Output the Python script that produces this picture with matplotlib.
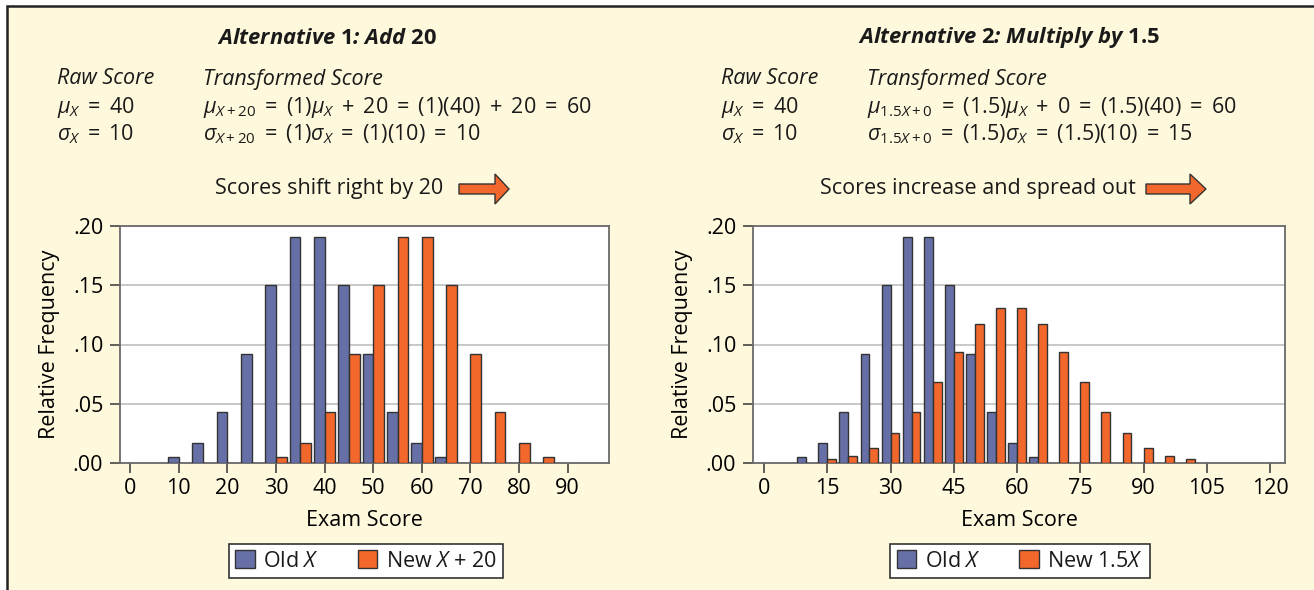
import matplotlib
matplotlib.use('Agg')
import matplotlib.pyplot as plt
from matplotlib.patches import Rectangle, Polygon

# values
old_scores = [10, 15, 20, 25, 30, 35, 40, 45, 50, 55, 60, 65]
old_freq = [.005, .017, .043, .092, .150, .191, .191, .150, .092, .043, .017, .005]
add_scores = [30, 35, 40, 45, 50, 55, 60, 65, 70, 75, 80, 85]
add_freq = [.005, .017, .043, .092, .150, .191, .191, .150, .092, .043, .017, .005]
mult_scores = [15, 20, 25, 30, 35, 40, 45, 50, 55, 60, 65, 70, 75, 80, 85, 90, 95, 100]
mult_freq = [.003, .006, .013, .025, .043, .068, .094, .117, .131,
             .131, .117, .094, .068, .043, .025, .013, .006, .003]
left_ticks = [0, 10, 20, 30, 40, 50, 60, 70, 80, 90]
right_ticks = [0, 15, 30, 45, 60, 75, 90, 105, 120]
y_ticks = [0, .05, .10, .15, .20]

BLUE = '#6670a6'
ORANGE = '#f2672b'
EDGE = '#333333'
BG = '#fef9dc'

plt.rcParams['font.family'] = ['Open Sans', 'DejaVu Sans']
plt.rcParams['mathtext.fontset'] = 'custom'
plt.rcParams['mathtext.rm'] = 'Open Sans'
plt.rcParams['mathtext.it'] = 'Open Sans:italic'
plt.rcParams['mathtext.bf'] = 'Open Sans:bold'
plt.rcParams['mathtext.sf'] = 'Open Sans'
plt.rcParams['text.color'] = '#1a1a1a'

W, H = 1314, 590
fig = plt.figure(figsize=(W / 100, H / 100), dpi=100, facecolor='white')

def fx(x):
    return x / W

def fy(y):
    return 1 - y / H

# yellow panel with dark border on top/left
fig.add_artist(Rectangle((fx(7), fy(600)), fx(1340 - 7), (600 - 6) / H,
                         transform=fig.transFigure, facecolor=BG,
                         edgecolor='#222222', linewidth=1.8, zorder=0))

FS = 15.5
SP = ' \u2006'   # a bit wider than a plain space, like the book's setting


def arrow(x0, yc, length=50, body=36, bh=5, hh=15):
    pts = [(x0, yc - bh), (x0 + body, yc - bh), (x0 + body, yc - hh),
           (x0 + length, yc), (x0 + body, yc + hh), (x0 + body, yc + bh),
           (x0, yc + bh)]
    pts = [(fx(px), fy(py)) for px, py in pts]
    fig.add_artist(Polygon(pts, closed=True, transform=fig.transFigure,
                           facecolor=ORANGE, edgecolor=EDGE, linewidth=1))


def panel(ax, new_x, new_y, width, xlim, xticks, new_label, leg_x):
    ax.set_facecolor('white')
    ax.bar(old_scores, old_freq, width=-width, align='edge', color=BLUE,
           edgecolor=EDGE, linewidth=1, label='Old $X$', zorder=3)
    ax.bar(new_x, new_y, width=width, align='edge', color=ORANGE,
           edgecolor=EDGE, linewidth=1, label=new_label, zorder=3)
    ax.set_xlim(xlim)
    ax.set_ylim(0, 0.2)
    ax.set_xticks(xticks)
    ax.set_yticks(y_ticks)
    ax.set_yticklabels([('%.2f' % v)[1:] for v in y_ticks])
    ax.grid(axis='y', color='#c4c4c4', linewidth=1.3, zorder=0)
    ax.set_axisbelow(True)
    for s in ax.spines.values():
        s.set_color('#6a6a6a')
        s.set_linewidth(1.3)
    ax.tick_params(axis='x', length=7, width=1.2, color='#444444',
                   labelsize=FS, pad=4)
    ax.tick_params(axis='y', length=7, width=1.2, color='#444444',
                   labelsize=FS, pad=5)
    ax.set_xlabel('Exam Score', fontsize=FS)
    ax.set_ylabel('Relative Frequency', fontsize=FS)
    ax.xaxis.set_label_coords(0.5, -47 / 237)
    ax.yaxis.set_label_coords(-60 / ax.bbox.width, 0.5)
    leg = ax.legend(loc='center', bbox_to_anchor=(fx(leg_x), fy(561)),
                    bbox_transform=fig.transFigure, ncol=2, fontsize=FS,
                    frameon=True, fancybox=False, edgecolor='#333333',
                    framealpha=1, handlelength=0.9, handleheight=0.9,
                    handletextpad=0.4, columnspacing=1.8, borderpad=0.3)
    leg.get_frame().set_linewidth(1.2)


ax1 = fig.add_axes([fx(120), fy(463), 489 / W, 237 / H])
panel(ax1, add_scores, add_freq, 2.2, (-2.1, 98.5), left_ticks,
      'New $X$ + 20', 366)
ax2 = fig.add_axes([fx(753), fy(463), 532 / W, 237 / H])
panel(ax2, mult_scores, mult_freq, 2.1, (-2.6, 123.5), right_ticks,
      'New 1.5$X$', 1020)

# header texts
fig.text(fx(327), fy(38), r'Alternative $\mathbf{1}$: Add $\mathbf{20}$',
         ha='center', va='center', fontsize=15.8, weight='bold', style='italic')
fig.text(fx(1009), fy(38), r'Alternative $\mathbf{2}$: Multiply by $\mathbf{1.5}$',
         ha='center', va='center', fontsize=15.8, weight='bold', style='italic')

for x0, x1 in [(57, 203), (721, 867)]:
    fig.text(fx(x0), fy(79), 'Raw Score', style='italic', fontsize=FS, va='center')
    fig.text(fx(x1), fy(79), 'Transformed Score', style='italic', fontsize=FS, va='center')
    fig.text(fx(x0), fy(107), r'$\mu_X$' + SP + '=' + SP + '40', fontsize=FS, va='center')
    fig.text(fx(x0), fy(134), r'$\sigma_X$' + SP + '=' + SP + '10', fontsize=FS, va='center')

mu_add = [r'$\mu_{X+20}$', '=', r'(1)$\mu_X$', '+', '20', '=', '(1)(40)', '+', '20', '=', '60']
sd_add = [r'$\sigma_{X+20}$', '=', r'(1)$\sigma_X$', '=', '(1)(10)', '=', '10']
mu_mult = [r'$\mu_{1.5X+0}$', '=', r'(1.5)$\mu_X$', '+', '0', '=', '(1.5)(40)', '=', '60']
sd_mult = [r'$\sigma_{1.5X+0}$', '=', r'(1.5)$\sigma_X$', '=', '(1.5)(10)', '=', '15']

fig.text(fx(203), fy(107), SP.join(mu_add), fontsize=FS, va='center')
fig.text(fx(203), fy(134), SP.join(sd_add), fontsize=FS, va='center')
fig.text(fx(867), fy(107), SP.join(mu_mult), fontsize=FS, va='center')
fig.text(fx(867), fy(134), SP.join(sd_mult), fontsize=FS, va='center')

fig.text(fx(443), fy(189), 'Scores shift right by 20', ha='right', va='center', fontsize=FS)
arrow(459, 189)
fig.text(fx(1136), fy(189), 'Scores increase and spread out', ha='right', va='center', fontsize=FS)
arrow(1146, 189, length=60, body=44)

fig.savefig('out.png', dpi=100, facecolor='white')
